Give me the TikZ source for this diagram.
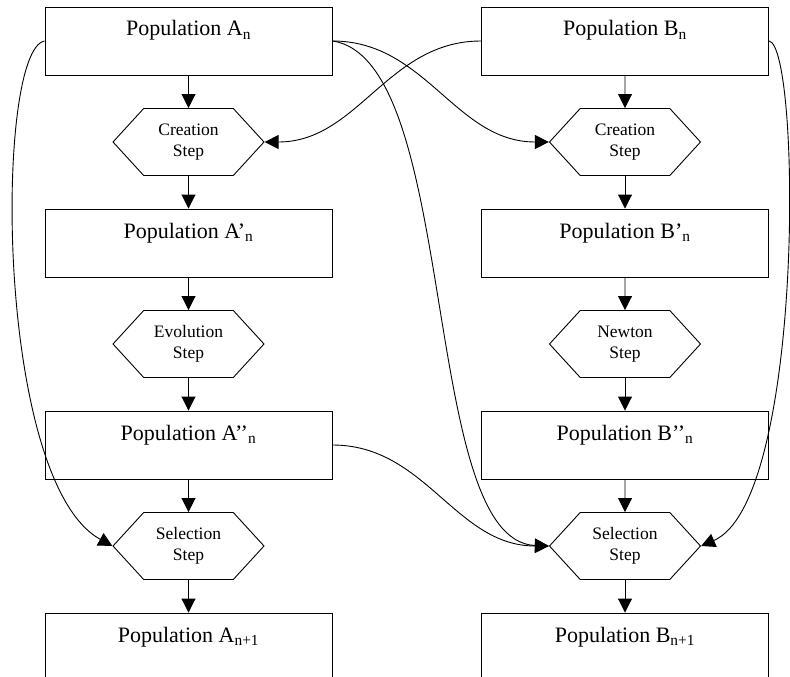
\documentclass[tikz,border=0pt]{standalone}
\usepackage{fontspec}
\setmainfont{Liberation Serif}
\usetikzlibrary{arrows.meta}
\usetikzlibrary{shapes.symbols}

\begin{document}
\begin{tikzpicture}[x=1pt,y=1pt,>={Triangle[length=14pt,width=14pt]},line width=0.9pt,node distance=101pt]
		\tikzstyle{popbox}=[rectangle,draw,minimum width=287pt,minimum height=68pt,
			font=\fontsize{22}{26}\selectfont,text height=15pt,text depth=25pt];
		\tikzstyle{stepnode}=[signal,signal to=west and east,signal pointer angle=95,draw,
			minimum width=151pt,minimum height=67pt,align=center,
			font=\fontsize{17.5}{21}\selectfont];
		\useasboundingbox(0,0)rectangle(790,-677);

		% left column
		\node[popbox](A0)at(188.5,-41){Population A\textsubscript{n}};
		\node[stepnode,below of=A0](A1){Creation\\Step}edge[<-](A0);
		\node[popbox,below of=A1](A2){Population A’\textsubscript{n}}edge[<-](A1);
		\node[stepnode,below of=A2](A3){Evolution\\Step}edge[<-](A2);
		\node[popbox,below of=A3](A4){Population A’’\textsubscript{n}}edge[<-](A3);
		\node[stepnode,below of=A4](A5){Selection\\Step}edge[<-](A4);
		\node[popbox,below of=A5](A6){Population A\textsubscript{n+1}}edge[<-](A5);

		% right column
		\node[popbox,node distance=436.5pt,right of=A0](B0){Population B\textsubscript{n}};
		\node[stepnode,below of=B0](B1){Creation\\Step}edge[<-](B0);
		\node[popbox,below of=B1](B2){Population B’\textsubscript{n}}edge[<-](B1);
		\node[stepnode,below of=B2](B3){Newton\\Step}edge[<-](B2);
		\node[popbox,below of=B3](B4){Population B’’\textsubscript{n}}edge[<-](B3);
		\node[stepnode,below of=B4](B5){Selection\\Step}edge[<-](B4);
		\node[popbox,below of=B5](B6){Population B\textsubscript{n+1}}edge[<-](B5);

		% exchanges between the columns
		\draw[->](A0.west)..controls+(-50,-9)and+(-118,65)..(A5.west);
		\draw[->](A0.east)to[out=0,in=180](B1.west);
		\draw[->](B0.west)to[out=180,in=0](A1.east);
		\draw[->](A0.east)..controls+(128,-19)and+(-130,5)..(B5.west);
		\draw[->](A4.east)to[out=0,in=180](B5.west);
		\draw[->](B0.east)..controls+(32,-4)and+(104,45)..(B5.east);
	\end{tikzpicture}
\end{document}
